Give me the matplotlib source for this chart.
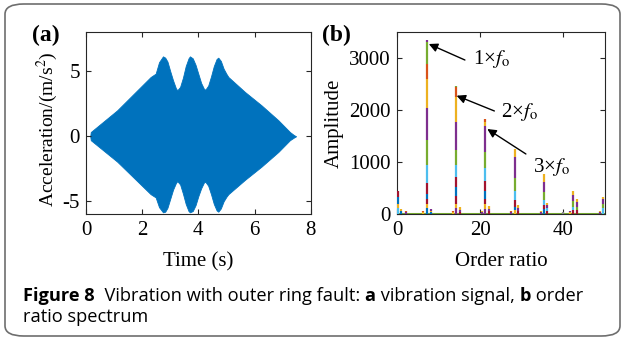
import matplotlib
matplotlib.use('Agg')
import matplotlib.pyplot as plt
from matplotlib.patches import FancyBboxPatch

plt.rcParams['font.family'] = ['Liberation Serif', 'DejaVu Serif']
plt.rcParams['mathtext.fontset'] = 'stix'
plt.rcParams['axes.unicode_minus'] = False

# MATLAB default colour order
mcol = {'b': '#0072BD', 'o': '#D95319', 'y': '#EDB120', 'p': '#7E2F8E',
        'g': '#77AC30', 'c': '#4DBEEE', 'r': '#A2142F', 'k': '#888888'}

# (a) vibration signal envelope
t_env = [0.15, 0.17, 1.11, 2.30, 2.48, 2.60, 2.74, 2.82, 2.90, 3.00, 3.10, 3.20,
         3.25, 3.35, 3.45, 3.55, 3.65, 3.70, 3.80, 3.90, 4.00, 4.10, 4.20, 4.25,
         4.35, 4.45, 4.55, 4.65, 4.71, 4.80, 4.90, 5.00, 5.07, 5.66, 6.25, 6.85,
         7.26, 7.40, 7.48]
acc_upper = [0.0, 0.33, 2.0, 4.56, 4.82, 5.7, 6.15, 6.05, 5.75, 5.0, 4.3, 3.7,
             3.54, 3.8, 4.5, 5.4, 6.0, 6.15, 6.0, 5.5, 4.8, 4.1, 3.65, 3.59,
             3.9, 4.6, 5.4, 5.95, 6.05, 5.8, 5.2, 4.8, 4.56, 3.41, 2.38, 1.23,
             0.33, 0.1, 0.0]
acc_lower = [0.0, -0.3, -1.95, -4.45, -4.7, -5.45, -5.85, -5.8, -5.5, -4.8, -4.1, -3.6,
             -3.45, -3.7, -4.4, -5.2, -5.75, -5.85, -5.75, -5.3, -4.6, -4.0, -3.55, -3.5,
             -3.8, -4.45, -5.2, -5.7, -5.8, -5.55, -5.0, -4.65, -4.45, -3.35, -2.33, -1.2,
             -0.3, -0.1, 0.0]

# (b) order spectrum: peak positions and coloured bands (top of band, colour)
peak_orders = [0.1, 7.07, 14.15, 21.2, 28.3, 35.4, 42.4, 49.5,
               1.0, 2.0, 6.3, 8.05, 13.4, 15.1, 20.4, 22.2, 27.5, 29.2,
               34.6, 36.2, 39.9, 41.6, 43.3, 48.8]
peak_bands = [
    [(450, 'r'), (330, 'b'), (200, 'y'), (120, 'c')],
    [(3350, 'p'), (3320, 'g'), (2900, 'o'), (2600, 'y'), (2050, 'p'), (1430, 'g'),
     (950, 'c'), (610, 'r'), (400, 'b'), (300, 'r'), (200, 'y'), (120, 'b')],
    [(2470, 'g'), (2440, 'o'), (2250, 'y'), (1780, 'p'), (1240, 'g'), (950, 'c'),
     (720, 'r'), (530, 'b'), (350, 'r'), (200, 'y'), (120, 'p')],
    [(1830, 'o'), (1780, 'y'), (1700, 'p'), (1200, 'g'), (900, 'c'), (640, 'r'),
     (450, 'b'), (300, 'r'), (200, 'y'), (100, 'p')],
    [(1250, 'y'), (1110, 'p'), (700, 'g'), (450, 'c'), (270, 'r'), (150, 'b'), (80, 'y')],
    [(780, 'y'), (630, 'p'), (435, 'g'), (275, 'c'), (180, 'r'), (100, 'b')],
    [(450, 'y'), (380, 'p'), (250, 'g'), (150, 'c'), (90, 'r')],
    [(340, 'y'), (290, 'p'), (200, 'g'), (120, 'c')],
    [(110, 'y'), (70, 'b')],
    [(60, 'o'), (40, 'p')],
    [(60, 'o'), (40, 'y')],
    [(110, 'p'), (70, 'y'), (40, 'b')],
    [(70, 'o'), (40, 'y')],
    [(135, 'y'), (90, 'p'), (50, 'r')],
    [(60, 'y'), (40, 'p')],
    [(165, 'y'), (110, 'p'), (60, 'r')],
    [(70, 'o'), (45, 'p')],
    [(180, 'y'), (120, 'p'), (70, 'r')],
    [(70, 'y'), (45, 'p')],
    [(220, 'y'), (180, 'p'), (120, 'c'), (60, 'r')],
    [(45, 'k')],
    [(60, 'p'), (40, 'y')],
    [(288, 'y'), (230, 'p'), (150, 'g'), (80, 'r')],
    [(60, 'y'), (40, 'p')],
]
baseline_level = 12

fig = plt.figure(figsize=(6.24, 3.39), dpi=100)

# rounded caption frame
frame = FancyBboxPatch((5 / 624, 3 / 339), 615 / 624, 332 / 339,
                       boxstyle='round,pad=0,rounding_size=0.03',
                       transform=fig.transFigure, facecolor='none',
                       edgecolor='#6e6e6e', linewidth=1.2)
fig.patches.append(frame)

ax1 = fig.add_axes([86 / 624, 124.7 / 339, 224.7 / 624, 182 / 339])
ax2 = fig.add_axes([397.3 / 624, 124.7 / 339, 207.4 / 624, 182 / 339])

# signal
ax1.fill_between(t_env, acc_lower, acc_upper, color=mcol['b'], linewidth=0.6,
                 edgecolor=mcol['b'])
ax1.set_xlim(0, 8)
ax1.set_ylim(-6, 8)
ax1.set_xticks([0, 2, 4, 6, 8])
ax1.set_yticks([-5, 0, 5])
ax1.set_xlabel('Time (s)', fontsize=15, labelpad=9)
ax1.set_ylabel('Acceleration/(m/s$^2$)', fontsize=14, labelpad=2)
ax1.yaxis.label.set_y(0.465)

# spectrum
ax2.axhline(baseline_level, color=mcol['g'], linewidth=2.2, zorder=2)
for x, bands in zip(peak_orders, peak_bands):
    for i, (top, key) in enumerate(bands):
        bottom = bands[i + 1][0] if i + 1 < len(bands) else baseline_level
        ax2.vlines(x, bottom, top, color=mcol[key], linewidth=1.6, zorder=3)
ax2.set_xlim(0, 50)
ax2.set_ylim(0, 3500)
ax2.set_xticks([0, 20, 40])
ax2.set_yticks([0, 1000, 2000, 3000])
ax2.set_xlabel('Order ratio', fontsize=15, labelpad=9)
ax2.set_ylabel('Amplitude', fontsize=15, labelpad=4)

labels = ['1×$f_\\mathrm{o}$', '2×$f_\\mathrm{o}$', '3×$f_\\mathrm{o}$']
label_xy = [(18.2, 2900), (24.9, 1880), (32.6, 820)]
arrow_tail = [(16.3, 2967), (23.4, 1987), (31.0, 1160)]
arrow_head = [(7.6, 3275), (14.3, 2281), (21.7, 1640)]
for s, lxy, tail, head in zip(labels, label_xy, arrow_tail, arrow_head):
    ax2.annotate('', xy=head, xytext=tail,
                 arrowprops=dict(arrowstyle='-|>', color='k', lw=1.0,
                                 mutation_scale=13, shrinkA=0, shrinkB=0))
    ax2.text(lxy[0], lxy[1], s, fontsize=15, ha='left', va='baseline')

for ax in (ax1, ax2):
    ax.tick_params(direction='in', top=True, right=True, length=3.5,
                   width=0.8, labelsize=15, pad=4.5, colors='#262626',
                   labelcolor='k')
    for sp in ax.spines.values():
        sp.set_linewidth(0.8)
        sp.set_color('#262626')

fig.text(32 / 624, 1 - 25 / 339, '(a)', fontsize=17, fontweight='bold', va='top')
fig.text(322 / 624, 1 - 25 / 339, '(b)', fontsize=17, fontweight='bold', va='top')

# caption with mixed bold / regular runs
cap_font = ['Open Sans', 'DejaVu Sans']
cap_size = 13.15
line1 = [('Figure 8', 'bold'), ('  Vibration with outer ring fault: ', 'normal'),
         ('a', 'bold'), (' vibration signal, ', 'normal'), ('b', 'bold'),
         (' order', 'normal')]
line2 = [('ratio spectrum', 'normal')]
renderer = fig.canvas.get_renderer()
for runs, base_y in ((line1, 301), (line2, 322)):
    x = 23
    for s, w in runs:
        t = fig.text(x / 624, 1 - base_y / 339, s, fontsize=cap_size,
                     fontweight=w, family=cap_font, va='baseline', ha='left')
        x += t.get_window_extent(renderer).width
fig.savefig('out.png', dpi=100)
